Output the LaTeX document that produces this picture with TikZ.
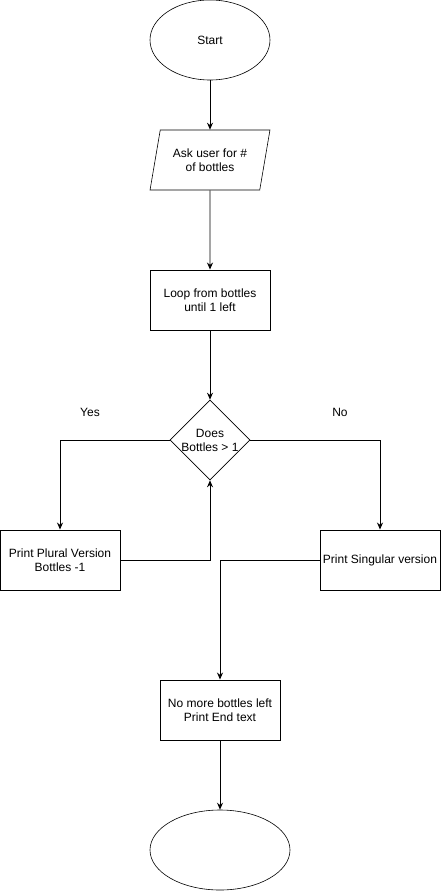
\documentclass[tikz,border=0pt]{standalone}
\usepackage{fontspec}
\setmainfont{Liberation Sans}
\usetikzlibrary{shapes.geometric,arrows.meta,positioning}

\begin{document}
\begin{tikzpicture}[x=1pt, y=-1pt, line width=0.9pt, >={Stealth[length=7pt,width=6pt]},
  font=\fontsize{12}{14}\selectfont,
  terminal/.style={ellipse, draw, line width=0.6pt, inner sep=0pt, minimum width=120pt, minimum height=80pt},
  iobox/.style={trapezium, draw, line width=0.6pt, trapezium left angle=71.57, trapezium right angle=108.43, trapezium stretches=true, inner sep=0pt, minimum width=120pt, minimum height=60pt, align=center},
  process/.style={rectangle, draw, line width=0.9pt, inner sep=2pt, minimum width=120pt, minimum height=60pt, align=center},
  decision/.style={diamond, draw, line width=0.6pt, inner sep=0pt, minimum width=80pt, minimum height=80pt}]
\useasboundingbox (0,0) rectangle (441,891);
\node[terminal] (start) at (210,40) {Start};
\node[iobox] (ask) at (210,160) {Ask user for \#\\of bottles};
\node[process] (loop) at (210,300) {Loop from bottles\\until 1 left};
\node[decision, label={[align=center]center:Does\\Bottles > 1}] (check) at (210,440) {};
\node[process] (plural) at (60,560) {Print Plural Version\\Bottles -1};
\node[process] (single) at (380,560) {Print Singular version};
\node[process] (done) at (220,710) {No more bottles left\\Print End text};
\node[terminal, minimum width=140pt] (stop) at (220,850) {};
\node (yes) at (90,412) {Yes};
\node (no) at (340,412) {No};
\draw[->] (start) -- (ask);
\draw[->] (ask) -- (loop);
\draw[->] (loop) -- (check);
\draw[->] (check.west) -| (plural.north);
\draw[->] (check.east) -| (single.north);
\draw[->] (plural.east) -| (check.south);
\draw[->] (single.west) -| (done.north);
\draw[->] (done) -- (stop);
\end{tikzpicture}
\end{document}
